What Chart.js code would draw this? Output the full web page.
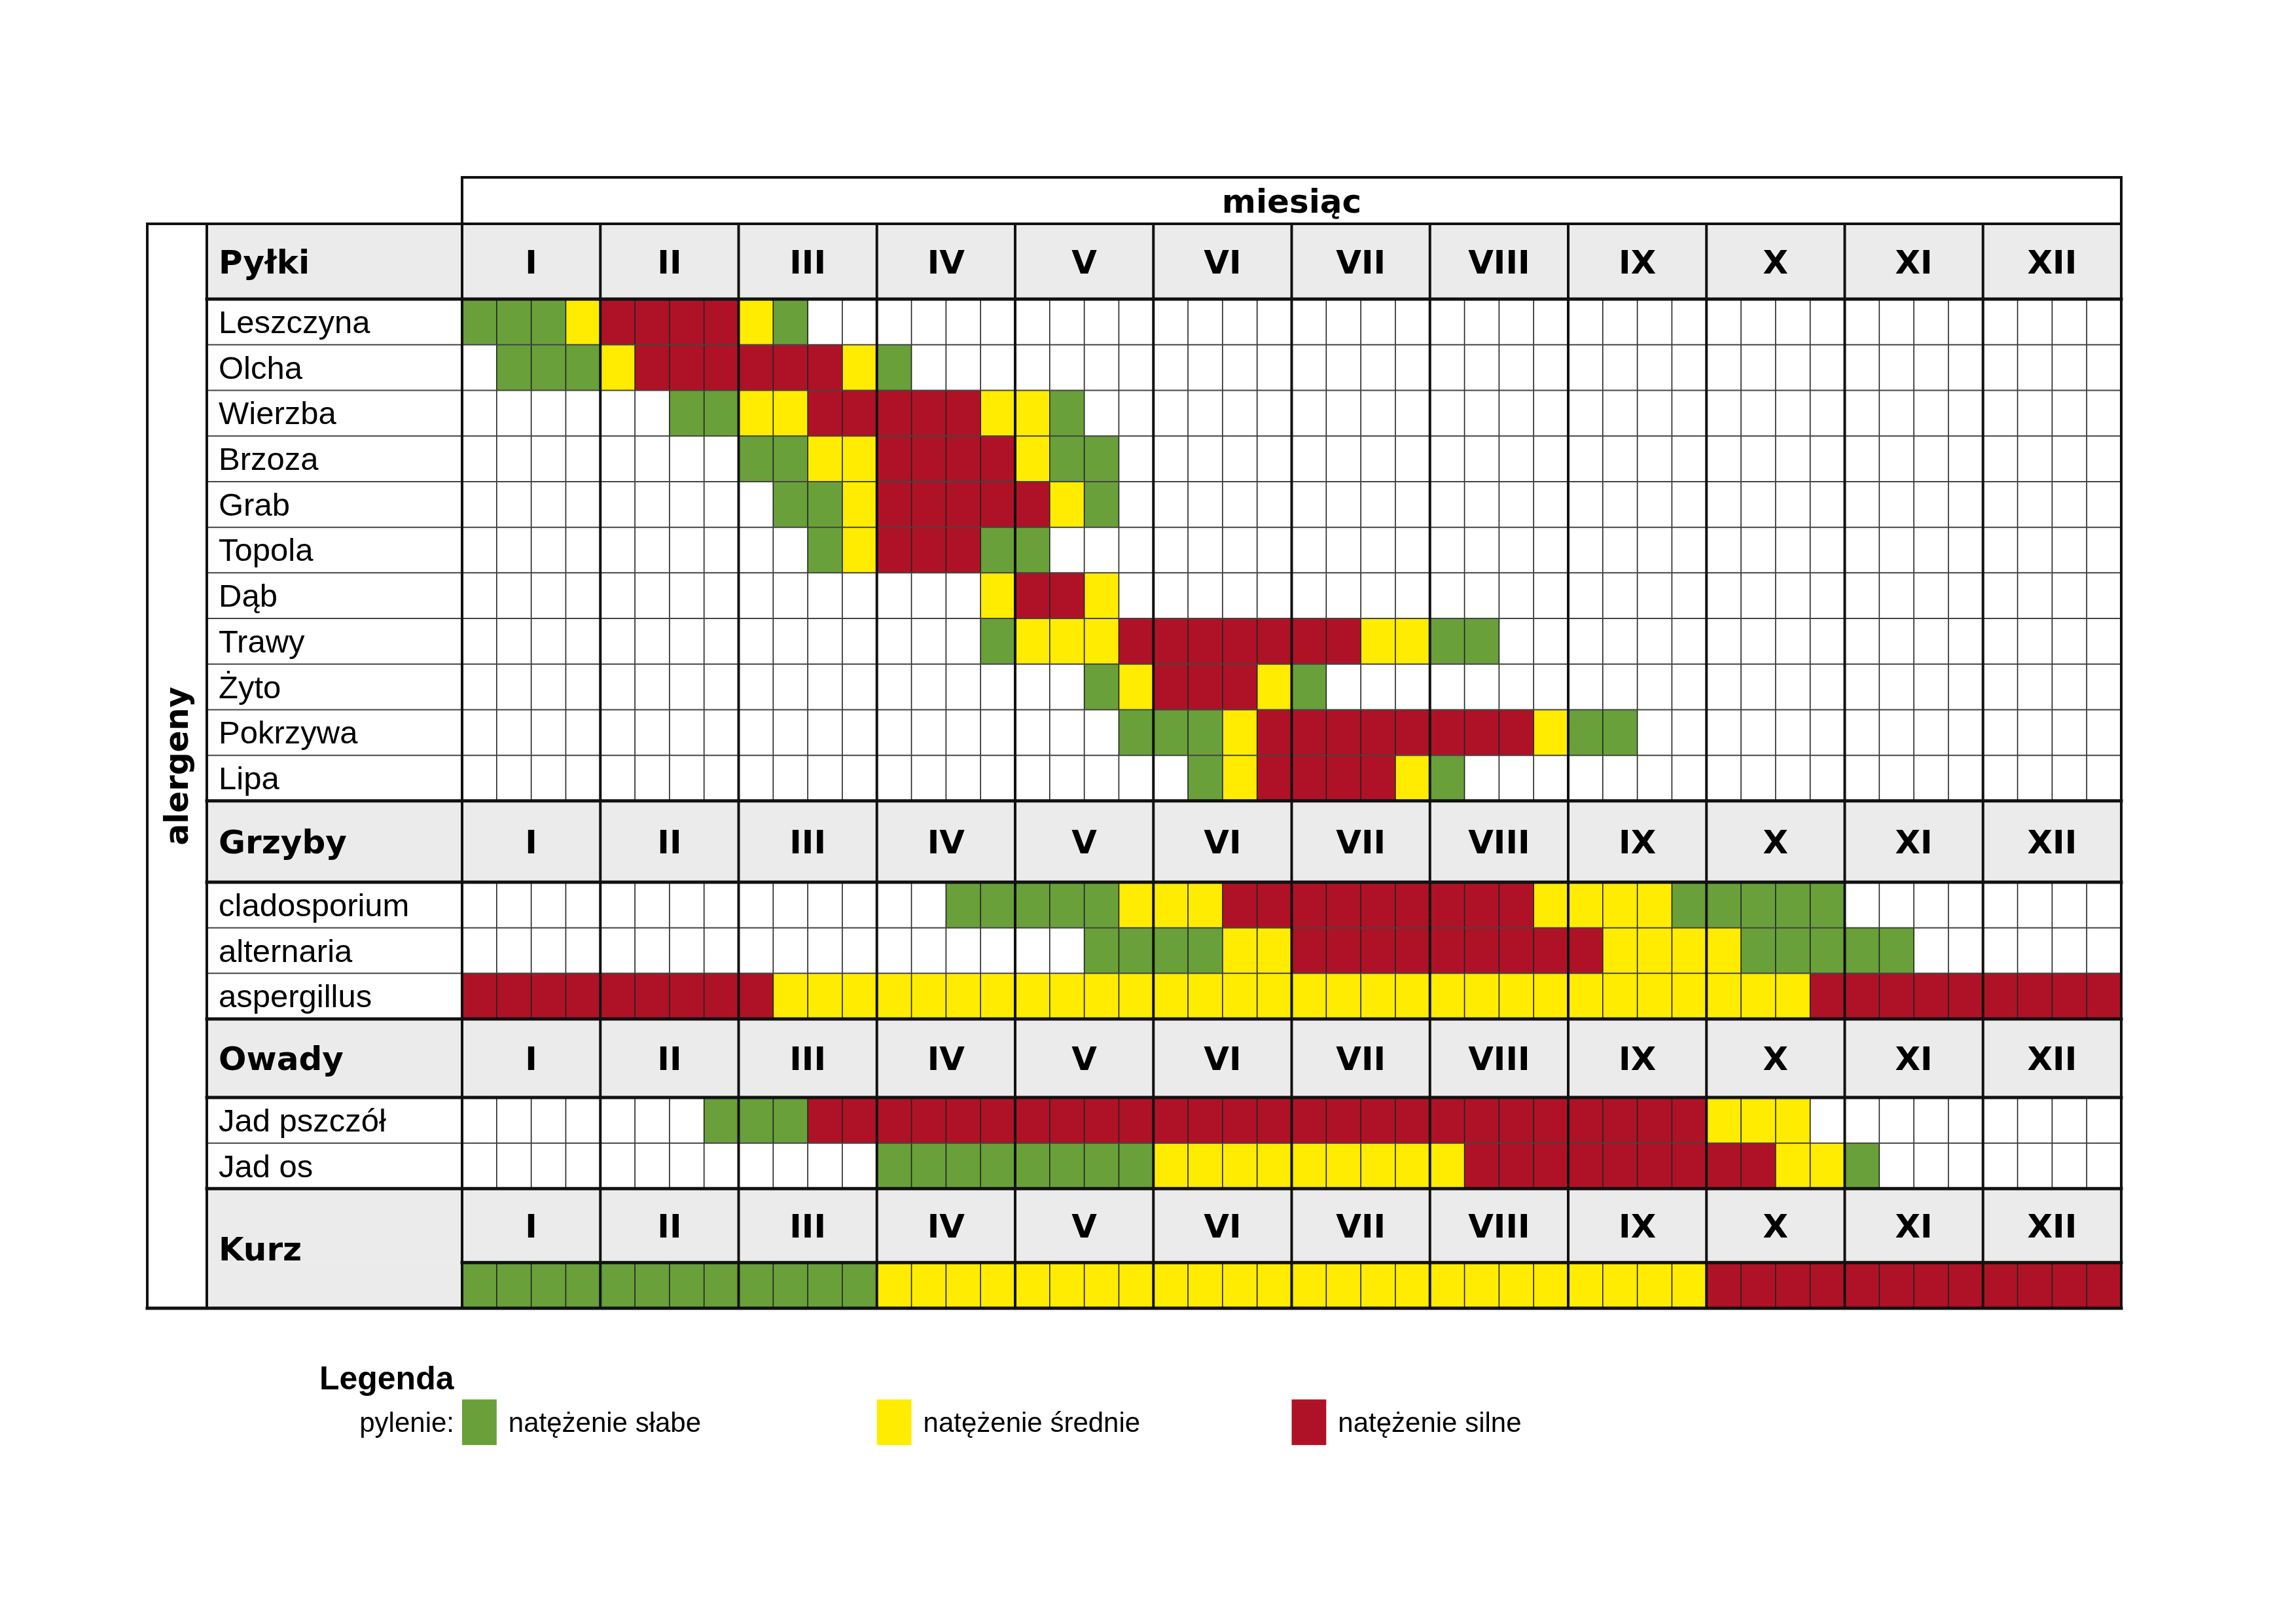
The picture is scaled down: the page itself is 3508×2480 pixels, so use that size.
<!DOCTYPE html>
<html>
<head>
<meta charset="utf-8">
<script src="https://cdn.jsdelivr.net/npm/chart.js@4/dist/chart.umd.min.js"></script>
<style>html,body{margin:0;padding:0;background:#fff}</style>
</head>
<body>
<canvas id="kalendarz" width="3508" height="2480"></canvas>
<script>
// months and week levels: 0 - brak, 1 - słabe, 2 - średnie, 3 - silne (4 weeks per month)
const months = ['I', 'II', 'III', 'IV', 'V', 'VI', 'VII', 'VIII', 'IX', 'X', 'XI', 'XII'];

const pylki = ['Leszczyna', 'Olcha', 'Wierzba', 'Brzoza', 'Grab', 'Topola', 'Dąb', 'Trawy', 'Żyto', 'Pokrzywa', 'Lipa'];
const pylkiWeeks = [
    '1112 3333 2100 0000 0000 0000 0000 0000 0000 0000 0000 0000',
    '0111 2333 3332 1000 0000 0000 0000 0000 0000 0000 0000 0000',
    '0000 0011 2233 3332 2100 0000 0000 0000 0000 0000 0000 0000',
    '0000 0000 1122 3333 2110 0000 0000 0000 0000 0000 0000 0000',
    '0000 0000 0112 3333 3210 0000 0000 0000 0000 0000 0000 0000',
    '0000 0000 0012 3331 1000 0000 0000 0000 0000 0000 0000 0000',
    '0000 0000 0000 0002 3320 0000 0000 0000 0000 0000 0000 0000',
    '0000 0000 0000 0001 2223 3333 3322 1100 0000 0000 0000 0000',
    '0000 0000 0000 0000 0012 3332 1000 0000 0000 0000 0000 0000',
    '0000 0000 0000 0000 0001 1123 3333 3332 1100 0000 0000 0000',
    '0000 0000 0000 0000 0000 0123 3332 1000 0000 0000 0000 0000'
];

const grzyby = ['cladosporium', 'alternaria', 'aspergillus'];
const grzybyWeeks = [
    '0000 0000 0000 0011 1112 2233 3333 3332 2221 1111 0000 0000',
    '0000 0000 0000 0000 0011 1122 3333 3333 3222 2111 1100 0000',
    '3333 3333 3222 2222 2222 2222 2222 2222 2222 2223 3333 3333'
];

const owady = ['Jad pszczół', 'Jad os'];
const owadyWeeks = [
    '0000 0001 1133 3333 3333 3333 3333 3333 3333 2220 0000 0000',
    '0000 0000 0000 1111 1111 2222 2222 2333 3333 3322 1000 0000'
];

const kurzWeeks = [
    '1111 1111 1111 2222 2222 2222 2222 2222 2222 3333 3333 3333'
];

const levelNames = ['natężenie słabe', 'natężenie średnie', 'natężenie silne'];
const levelColors = ['#69A03A', '#FFEC00', '#AF1226'];

// layout (in scale units: 1 week wide, 1 row high)
const N = 48;
const TOP_H = 1.02;
const LABEL_W = 7.385;
const SIDE_W = 1.723;

const sections = [
    {name: 'Pyłki', head: 1.65, rows: pylki, weeks: pylkiWeeks},
    {name: 'Grzyby', head: 1.78, rows: grzyby, weeks: grzybyWeeks},
    {name: 'Owady', head: 1.72, rows: owady, weeks: owadyWeeks},
    {name: 'Kurz', head: 1.62, rows: [''], weeks: kurzWeeks, merged: true}
];

let yPos = TOP_H;
const rows = [];
sections.forEach(s => {
    s.y0 = yPos;
    s.hy1 = yPos + s.head;
    yPos = s.hy1;
    s.rows.forEach((name, i) => {
        rows.push({name: name, y0: yPos, y1: yPos + 1, weeks: s.weeks[i].replace(/ /g, '')});
        yPos += 1;
    });
    s.y1 = yPos;
});
const TOTAL = yPos;

const datasets = levelNames.map((label, k) => ({
    label: label,
    backgroundColor: levelColors[k],
    grouped: false,
    categoryPercentage: 1,
    barPercentage: 1,
    borderWidth: 0,
    data: rows.flatMap(r => [...r.weeks]
        .map((v, c) => Number(v) === k + 1 ? {x: c + 0.5, y: [r.y0, r.y1]} : null)
        .filter(Boolean))
}));

function seg(ctx, x1, y1, x2, y2, w, col) {
    ctx.beginPath();
    ctx.lineWidth = w;
    ctx.strokeStyle = col;
    ctx.moveTo(x1, y1);
    ctx.lineTo(x2, y2);
    ctx.stroke();
}

const HEAD_FONT = 'bold 50px "DejaVu Sans"';
const LABEL_FONT = '49px "Liberation Sans"';

const gridPlugin = {
    id: 'siatka',
    beforeDatasetsDraw(chart) {
        const {ctx, scales: {x, y}} = chart;
        ctx.save();
        ctx.fillStyle = '#EBEBEB';
        sections.forEach(s => {
            const l = x.getPixelForValue(-LABEL_W);
            ctx.fillRect(l, y.getPixelForValue(s.y0), x.getPixelForValue(N) - l, y.getPixelForValue(s.hy1) - y.getPixelForValue(s.y0));
            if (s.merged) {
                ctx.fillRect(l, y.getPixelForValue(s.hy1), x.getPixelForValue(0) - l, y.getPixelForValue(s.y1) - y.getPixelForValue(s.hy1));
            }
        });
        ctx.restore();
    },
    afterDatasetsDraw(chart) {
        const {ctx, scales: {x, y}} = chart;
        const px = v => x.getPixelForValue(v);
        const py = v => y.getPixelForValue(v);
        const left = -(LABEL_W + SIDE_W);
        ctx.save();
        ctx.lineCap = 'square';

        // week lines inside data rows
        rows.forEach(r => {
            for (let c = 1; c < N; c++) {
                if (c % 4 !== 0) seg(ctx, px(c), py(r.y0), px(c), py(r.y1), 1.6, '#222');
            }
        });
        // row lines
        sections.forEach(s => {
            for (let yy = s.hy1 + 1; yy < s.y1 - 0.01; yy += 1) {
                seg(ctx, px(-LABEL_W), py(yy), px(N), py(yy), 2, '#444');
            }
        });
        // month lines
        for (let m = 0; m <= 12; m++) {
            const top = (m === 0 || m === 12) ? 0 : TOP_H;
            seg(ctx, px(m * 4), py(top), px(m * 4), py(TOTAL), 4, '#111');
        }
        // section lines and frame
        seg(ctx, px(0), py(0), px(N), py(0), 4, '#111');
        seg(ctx, px(left), py(TOP_H), px(N), py(TOP_H), 4, '#111');
        seg(ctx, px(left), py(TOP_H), px(left), py(TOTAL), 4, '#111');
        seg(ctx, px(-LABEL_W), py(TOP_H), px(-LABEL_W), py(TOTAL), 4, '#111');
        sections.forEach((s, i) => {
            if (i > 0) seg(ctx, px(-LABEL_W), py(s.y0), px(N), py(s.y0), 5, '#111');
            seg(ctx, px(s.merged ? 0 : -LABEL_W), py(s.hy1), px(N), py(s.hy1), 5, '#111');
        });
        seg(ctx, px(left), py(TOTAL), px(N), py(TOTAL), 5, '#111');

        // texts
        ctx.fillStyle = '#000';
        ctx.font = HEAD_FONT;
        ctx.textAlign = 'center';
        ctx.textBaseline = 'alphabetic';
        const cap = 18;
        ctx.fillText('miesiąc', px(N / 2), py(TOP_H / 2) + cap);
        sections.forEach(s => {
            const mid = py((s.y0 + s.hy1) / 2) + cap;
            ctx.textAlign = 'center';
            months.forEach((m, i) => ctx.fillText(m, px(i * 4 + 2), mid));
            ctx.textAlign = 'left';
            const nameMid = s.merged ? py((s.y0 + s.y1) / 2) + cap : mid;
            ctx.fillText(s.name, px(-LABEL_W) + 18, nameMid);
        });
        ctx.font = LABEL_FONT;
        ctx.textAlign = 'left';
        rows.forEach(r => {
            if (r.name) ctx.fillText(r.name, px(-LABEL_W) + 18, py((r.y0 + r.y1) / 2) + 17);
        });
        ctx.save();
        ctx.font = 'bold 49px "DejaVu Sans"';
        ctx.translate(px(left + SIDE_W / 2) + 17, py((TOP_H + TOTAL) / 2));
        ctx.rotate(-Math.PI / 2);
        ctx.textAlign = 'center';
        ctx.fillText('alergeny', 0, 0);
        ctx.restore();

        // legend
        const sw0 = TOTAL + 2.0;
        ctx.font = 'bold 50px "Liberation Sans"';
        ctx.textAlign = 'left';
        ctx.fillText('Legenda', px(-4.13), py(TOTAL + 1.52) + 18);
        ctx.font = '42px "Liberation Sans"';
        ctx.textAlign = 'right';
        ctx.fillText('pylenie:', px(0) - 12, py(sw0 + 0.5) + 15);
        ctx.textAlign = 'left';
        chart.data.datasets.forEach((ds, k) => {
            const c = k * 12;
            ctx.fillStyle = ds.backgroundColor;
            ctx.fillRect(px(c), py(sw0), px(c + 1) - px(c), py(sw0 + 1) - py(sw0));
            ctx.fillStyle = '#000';
            ctx.fillText(ds.label, px(c + 1) + 18, py(sw0 + 0.5) + 15);
        });
        ctx.restore();
    }
};

new Chart(document.getElementById('kalendarz'), {
    type: 'bar',
    data: {datasets: datasets},
    options: {
        responsive: false,
        devicePixelRatio: 1,
        animation: false,
        layout: {padding: {left: 225, right: 267, top: 271, bottom: 481}},
        scales: {
            x: {type: 'linear', min: -(LABEL_W + SIDE_W), max: N, offset: false, display: false},
            y: {type: 'linear', min: 0, max: TOTAL, reverse: true, display: false}
        },
        plugins: {
            legend: {display: false},
            tooltip: {enabled: false}
        }
    },
    plugins: [gridPlugin]
});
</script>
</body>
</html>
